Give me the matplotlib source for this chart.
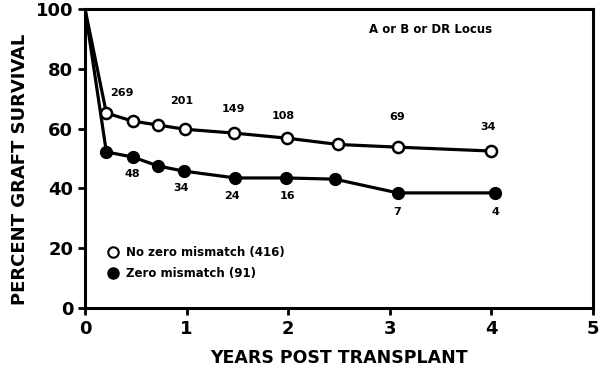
import matplotlib
matplotlib.use("Agg")
import matplotlib.pyplot as plt

years_open = [0, 0.21, 0.47, 0.72, 0.98, 1.47, 1.99, 2.49, 3.08, 4.0]
surv_open = [100, 65.2, 62.5, 61.2, 59.8, 58.5, 56.8, 54.7, 53.8, 52.5]
years_fill = [0, 0.21, 0.47, 0.72, 0.97, 1.48, 1.98, 2.46, 3.08, 4.04]
surv_fill = [100, 52.2, 50.5, 47.5, 45.8, 43.5, 43.5, 43.1, 38.5, 38.5]

n_open_labels = ["269", "201", "149", "108", "69", "34"]
n_open_x = [0.36, 0.95, 1.46, 1.95, 3.07, 3.97]
n_open_y = [72, 69.2, 66.5, 64.3, 63.8, 60.5]
n_fill_labels = ["48", "34", "24", "16", "7", "4"]
n_fill_x = [0.47, 0.95, 1.45, 1.99, 3.07, 4.04]
n_fill_y = [44.8, 40, 37.5, 37.5, 32, 32]

xticks = [0, 1, 2, 3, 4, 5]
yticks = [0, 20, 40, 60, 80, 100]

fig = plt.figure(figsize=(6.0, 3.68), dpi=100)
ax = fig.add_axes([0.1417, 0.163, 0.8463, 0.8125])

ax.plot(years_open, surv_open, color="black", lw=2.3, zorder=2)
ax.plot(years_open[1:], surv_open[1:], "o", ms=8, mfc="white", mec="black", mew=1.8, zorder=3)
ax.plot(years_fill, surv_fill, color="black", lw=2.3, zorder=2)
ax.plot(years_fill[1:], surv_fill[1:], "o", ms=8.5, mfc="black", mec="black", zorder=3)

for t, x, y in zip(n_open_labels, n_open_x, n_open_y):
    ax.text(x, y, t, ha="center", va="center", fontsize=8, fontweight="bold")
for t, x, y in zip(n_fill_labels, n_fill_x, n_fill_y):
    ax.text(x, y, t, ha="center", va="center", fontsize=8, fontweight="bold")

ax.text(3.4, 93, "A or B or DR Locus", ha="center", va="center", fontsize=8.5, fontweight="bold")

ax.plot([0.28], [18.7], "o", ms=7.5, mfc="white", mec="black", mew=1.5, clip_on=False)
ax.text(0.4, 18.7, "No zero mismatch (416)", ha="left", va="center", fontsize=8.5, fontweight="bold")
ax.plot([0.28], [11.7], "o", ms=8, mfc="black", mec="black", clip_on=False)
ax.text(0.4, 11.7, "Zero mismatch (91)", ha="left", va="center", fontsize=8.5, fontweight="bold")

ax.set_xlim(0, 5)
ax.set_ylim(0, 100)
ax.set_xticks(xticks)
ax.set_yticks(yticks)
ax.tick_params(axis="both", direction="out", length=5, width=2, labelsize=13)
for lab in ax.get_xticklabels() + ax.get_yticklabels():
    lab.set_fontweight("bold")
for s in ax.spines.values():
    s.set_linewidth(2.2)

ax.set_xlabel("YEARS POST TRANSPLANT", fontsize=12.5, fontweight="bold", labelpad=8)
ax.set_ylabel("PERCENT GRAFT SURVIVAL", fontsize=13, fontweight="bold")
ax.yaxis.set_label_coords(-0.11, 0.465)

fig.savefig("out.png", dpi=100)
